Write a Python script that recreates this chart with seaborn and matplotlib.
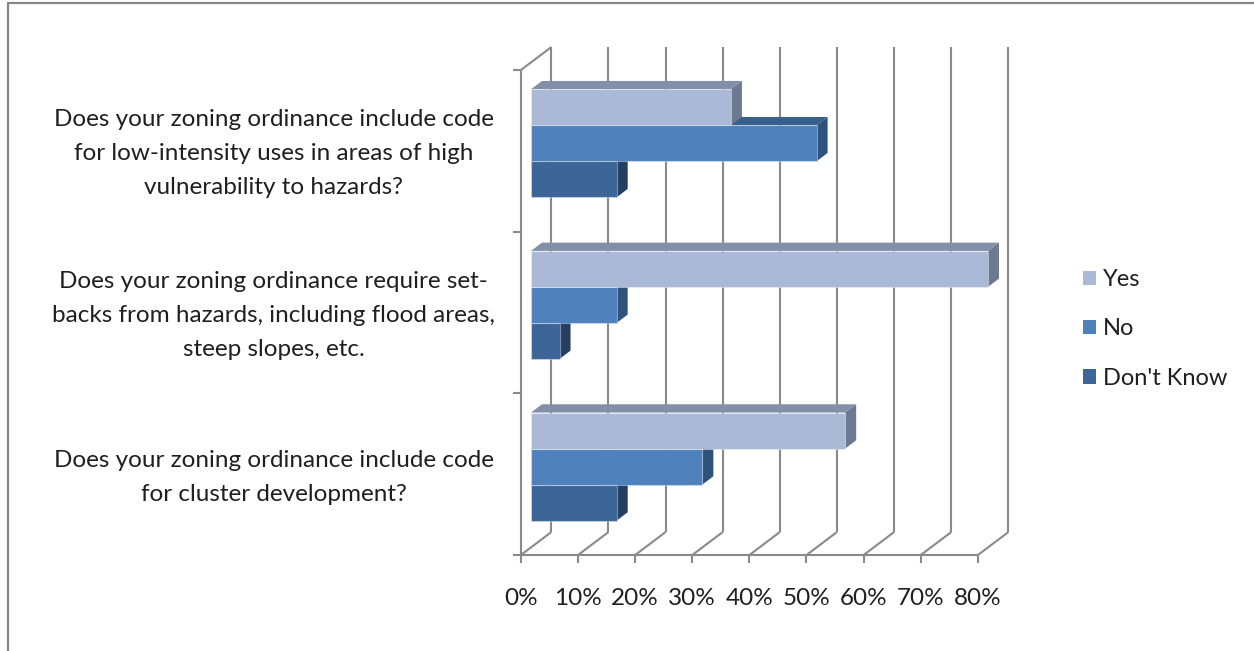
import matplotlib
matplotlib.use("Agg")
import matplotlib.pyplot as plt
from matplotlib.patches import Polygon, Patch
from matplotlib.lines import Line2D
import numpy as np
import pandas as pd
import seaborn as sns

# ---- data -------------------------------------------------------------
questions = [
    "Does your zoning ordinance include code\nfor low-intensity uses in areas of high\nvulnerability to hazards?",
    "Does your zoning ordinance require set-\nbacks from hazards, including flood areas,\nsteep slopes, etc.",
    "Does your zoning ordinance include code\nfor cluster development?",
]
responses = ["Yes", "No", "Don't Know"]
yes_pct = [35, 80, 55]
no_pct = [50, 15, 30]
dont_know_pct = [15, 5, 15]
x_ticks = [0, 10, 20, 30, 40, 50, 60, 70, 80]
x_tick_labels = [f"{v}%" for v in x_ticks]

# face colours: front, top, side
front_colors = ["#AAB9D6", "#4F81BD", "#3D6597"]
top_colors = ["#828FA8", "#37608E", "#2C4B72"]
side_colors = ["#6C798E", "#30527A", "#263F60"]

df = pd.DataFrame({
    "question": np.repeat(questions, 3),
    "response": responses * 3,
    "value": np.ravel(np.column_stack([yes_pct, no_pct, dont_know_pct])),
})

sns.set_style("white")
plt.rcParams["font.family"] = ["Lato", "DejaVu Sans"]
TEXT = "#1f1f1f"
GRID = "#8a8a8a"

W, H = 1254, 651
fig = plt.figure(figsize=(W / 100, H / 100), dpi=100)
fig.patch.set_facecolor("white")

# axes = bar plane of the pseudo-3D box
ax = fig.add_axes([531 / W, 1 - 547.4 / H, 457 / W, 485 / H])
sns.barplot(data=df, y="question", x="value", hue="response",
            hue_order=responses, order=questions, orient="h",
            palette=front_colors, saturation=1, width=0.668,
            ax=ax, legend=False, edgecolor="none")
ax.set_xlim(0, 80)
ax.set_ylim(2.5, -0.5)
ax.axis("off")

# depth vector (pixels, display coords) of the whole box
DEPTH = np.array([30.5, 23.0])
T_FRONT, T_BACK, T_BAR = -1 / 3, 2 / 3, 0.36


def off(x, y, t):
    """Data point (x, y) moved t box-depths back."""
    p = ax.transData.transform((x, y)) + t * DEPTH
    return ax.transData.inverted().transform(p)


def seg(p, q, **kw):
    ax.add_line(Line2D([p[0], q[0]], [p[1], q[1]], color=GRID, lw=1.5,
                       clip_on=False, zorder=1, solid_capstyle="butt", **kw))


y_lo, y_hi = 2.5, -0.5  # bottom and top of category range
for xv in x_ticks:
    seg(off(xv, y_lo, T_BACK), off(xv, y_hi, T_BACK))    # back wall
    seg(off(xv, y_lo, T_FRONT), off(xv, y_lo, T_BACK))   # floor
    a = off(xv, y_lo, T_FRONT)
    b = ax.transData.inverted().transform(ax.transData.transform(a) + [0, -8])
    seg(a, b)                                            # tick mark
    ax.annotate(x_tick_labels[xv // 10], xy=a, xytext=(0, -43),
                textcoords="offset pixels", ha="center", va="center",
                fontsize=17.5, color=TEXT, annotation_clip=False)

seg(off(0, y_lo, T_FRONT), off(80, y_lo, T_FRONT))       # front floor edge
seg(off(0, y_lo, T_FRONT), off(0, y_hi, T_FRONT))        # front left edge
seg(off(0, y_hi, T_FRONT), off(0, y_hi, T_BACK))         # left wall top
for yb in [-0.5, 0.5, 1.5, 2.5]:
    a = off(0, yb, T_FRONT)
    b = ax.transData.inverted().transform(ax.transData.transform(a) + [-8, 0])
    seg(a, b)

for i, q in enumerate(questions):
    ax.annotate(q, xy=off(0, i, T_FRONT), xytext=(274 - 521, -3),
                textcoords="offset pixels", ha="center", va="center",
                multialignment="center", fontsize=17.5, color=TEXT,
                linespacing=1.76, annotation_clip=False)

# give every bar a top and a right face; upper bars are painted last
for k, cont in enumerate(ax.containers):
    for bar in cont:
        x0, y0 = bar.get_x(), bar.get_y()
        x1, y1 = x0 + bar.get_width(), y0 + bar.get_height()
        z = 10 - y0
        bar.set_zorder(z)
        bar.set_edgecolor((1, 1, 1, 0.35))
        bar.set_linewidth(0.8)
        top = [(x0, y0), (x1, y0), off(x1, y0, T_BAR), off(x0, y0, T_BAR)]
        side = [(x1, y0), (x1, y1), off(x1, y1, T_BAR), off(x1, y0, T_BAR)]
        ax.add_patch(Polygon(top, closed=True, fc=top_colors[k], ec="none",
                             zorder=z - 0.01, clip_on=False))
        ax.add_patch(Polygon(side, closed=True, fc=side_colors[k], ec="none",
                             zorder=z - 0.01, clip_on=False))
        bar.set_clip_on(False)

# legend
handles = [Patch(facecolor=c, edgecolor="none") for c in front_colors]
fig.legend(handles, responses, loc="center left",
           bbox_to_anchor=(1062 / W, 1 - 329 / H), frameon=False,
           fontsize=17, handlelength=0.55, handleheight=0.55,
           handletextpad=0.3, labelspacing=1.2, labelcolor=TEXT)

# chart-area border (top and left edges)
fig.add_artist(Line2D([8 / W, 1], [1 - 3 / H, 1 - 3 / H],
                      transform=fig.transFigure, color="#868686", lw=1.6))
fig.add_artist(Line2D([8 / W, 8 / W], [0, 1 - 3 / H],
                      transform=fig.transFigure, color="#868686", lw=1.6))

fig.savefig("out.png", dpi=100, facecolor="white")
